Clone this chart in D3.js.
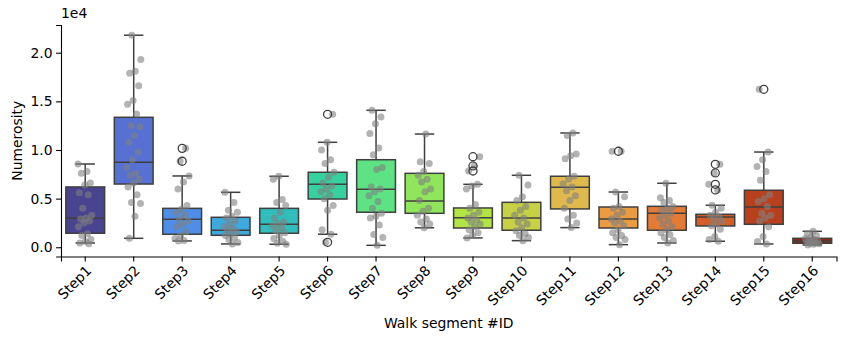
<!DOCTYPE html>
<html>
<head>
<meta charset="utf-8">
<script src="https://cdn.jsdelivr.net/npm/d3@7"></script>
<style>
body{margin:0;background:#fff}
svg{font-family:"DejaVu Sans",sans-serif}
</style>
</head>
<body>
<svg id="chart"></svg>
<script>
const width=846
const height=340
const margin={top:25,right:9.5,bottom:83.5,left:61}
const innerWidth=width-margin.left-margin.right
const innerHeight=height-margin.top-margin.bottom

// categories and colours
const steps=['Step1','Step2','Step3','Step4','Step5','Step6','Step7','Step8','Step9','Step10','Step11','Step12','Step13','Step14','Step15','Step16']
const colors=['#4a4390','#5670d3','#4e8ee8','#3ca9df','#30bdbb','#35d29f','#5de383','#90e65b','#b2e444','#c6d143','#e0b94d','#eb9c41','#e47b35','#d65d25','#b9401d','#962716']

// box stats
const whiskerLow=[440,920,650,340,310,1340,200,2000,960,680,2020,270,440,620,340,240]
const q1=[1440,6500,1340,1230,1440,4960,3600,3490,1980,1750,3940,1980,1750,2190,2360,410]
const medians=[2980,8730,2880,1750,2360,6470,5960,4760,3040,3010,6170,2910,3490,3110,4140,650]
const q3=[6200,13360,4000,3080,4000,7710,9000,7600,4040,4620,7300,4140,4210,3390,5860,920]
const whiskerHigh=[8560,21800,7330,5650,7300,10790,14080,11640,6470,7400,11750,5680,6580,4320,9790,1640]
const outliers=[[],[],[10170,8840],[],[],[13670,510],[],[],[9310,8360,7840],[],[],[9870],[],[8530,7640,6470,5890],[16240],[]]

// the individual observations (stripplot)
const points=[
  [8560,7800,7600,6600,6400,5600,5400,4000,3300,3000,2900,2700,2500,2100,1400,1200,800,600,440,350],
  [21800,19300,18100,17900,16600,15100,14700,13700,12500,12400,11500,10800,9800,9000,8200,7600,7400,7000,6600,6200,5400,4600,4500,3200,920],
  [10170,8840,7330,6700,6000,4300,3900,3600,3300,2900,2700,2400,2100,1600,1200,900,700,650],
  [5650,4600,3800,3600,3200,3000,2700,2400,2100,1900,1750,1600,1400,1200,1000,800,500,340],
  [7300,7000,4900,4600,4300,3600,3000,2600,2400,2200,2000,1700,1500,1200,900,600,400,310],
  [13670,10790,10000,9000,8600,7700,7200,6600,6300,6000,5700,5400,5000,4300,3800,1800,1340,510],
  [14080,13400,12700,11700,10200,9500,8200,8000,6200,6000,5700,5300,4700,4000,3500,3200,3000,2300,1300,1000,200],
  [11640,8800,8600,7800,7400,7000,6700,6000,5700,4800,4000,3700,3300,2900,2600,2400,2000],
  [9310,8360,7840,6470,6300,6000,4400,4000,3600,3300,3000,2800,2600,2400,2100,1800,1500,1200,960],
  [7400,6400,5200,4800,4200,3800,3300,3000,2600,2400,2000,1700,1400,1200,1000,680],
  [11750,11500,9600,9400,9100,7300,7000,6500,6200,5800,5300,4800,4000,3300,2900,2500,2020],
  [9870,9870,5680,5200,4200,4000,3600,3300,2900,2700,2500,2200,1800,1500,1200,1000,800,270],
  [6580,5100,4800,4600,4200,4000,3800,3500,3300,3000,2700,2400,2100,1800,1500,1300,1000,700,440],
  [8530,7640,6470,5890,4320,4000,3600,3300,3100,2900,2700,2400,2200,1850,1100,800,620],
  [16240,9790,9000,8300,7800,6900,5400,5000,4700,4200,3500,3300,3000,2700,2100,1100,600,340],
  [1640,1400,1200,1000,900,800,700,650,600,500,450,400,350,300,240]
]
const yTicks=[0,5000,10000,15000,20000]

const svg=d3.select('#chart').attr('width',width).attr('height',height)

const Xscale=d3.scaleBand().domain(steps).range([0,innerWidth])
const Yscale=d3.scaleLinear().domain([-950,22850]).range([innerHeight,0])

const g=svg.append('g').attr('transform',`translate(${margin.left},${margin.top})`)

const bw=Xscale.bandwidth()
const boxW=bw*0.8
const edge='#3f3f3f'

const boxes=steps.map((s,i)=>({step:s,i,lo:whiskerLow[i],q1:q1[i],med:medians[i],q3:q3[i],hi:whiskerHigh[i]}))

const boxG=g.append('g').attr('class','boxes').selectAll('g').data(boxes).join('g')
  .attr('transform',d=>`translate(${Xscale(d.step)+bw/2},0)`)

// whiskers
boxG.append('line').attr('y1',d=>Yscale(d.hi)).attr('y2',d=>Yscale(d.q3))
  .attr('stroke',edge).attr('stroke-width',1.5)
boxG.append('line').attr('y1',d=>Yscale(d.lo)).attr('y2',d=>Yscale(d.q1))
  .attr('stroke',edge).attr('stroke-width',1.5)
boxG.selectAll('line.cap').data(d=>[d.lo,d.hi]).join('line').attr('class','cap')
  .attr('x1',-boxW/4).attr('x2',boxW/4)
  .attr('y1',d=>Yscale(d)).attr('y2',d=>Yscale(d))
  .attr('stroke',edge).attr('stroke-width',1.5)
// box
boxG.append('rect')
  .attr('x',-boxW/2).attr('width',boxW)
  .attr('y',d=>Yscale(d.q3)).attr('height',d=>Yscale(d.q1)-Yscale(d.q3))
  .attr('fill',d=>colors[d.i]).attr('stroke',edge).attr('stroke-width',1.5)
// median
boxG.append('line').attr('x1',-boxW/2).attr('x2',boxW/2)
  .attr('y1',d=>Yscale(d.med)).attr('y2',d=>Yscale(d.med))
  .attr('stroke',edge).attr('stroke-width',1.5)

// strip points, deterministic jitter
const pts=[]
points.forEach((arr,s)=>arr.forEach((v,k)=>{
  const j=(((k*0.618034+s*0.37)%1)-0.5)*2*0.15*bw
  pts.push({step:steps[s],v,j})
}))
g.append('g').attr('class','strip').selectAll('circle').data(pts).join('circle')
  .attr('cx',d=>Xscale(d.step)+bw/2+d.j)
  .attr('cy',d=>Yscale(d.v))
  .attr('r',3.5)
  .attr('fill','#808080').attr('fill-opacity',0.6)

// fliers
const fl=[]
outliers.forEach((arr,s)=>arr.forEach(v=>fl.push({step:steps[s],v})))
g.append('g').attr('class','fliers').selectAll('circle').data(fl).join('circle')
  .attr('cx',d=>Xscale(d.step)+bw/2)
  .attr('cy',d=>Yscale(d.v))
  .attr('r',4)
  .attr('fill','none').attr('stroke',edge).attr('stroke-width',1.3)

// axes
const xAxis=d3.axisBottom(Xscale).tickSizeOuter(0).tickSize(4.9).tickPadding(3)
const yAxis=d3.axisLeft(Yscale).tickValues(yTicks).tickFormat(d=>(d/1e4).toFixed(1)).tickSizeOuter(0).tickSize(4.9).tickPadding(3.5)

const xg=g.append('g').attr('transform',`translate(0,${innerHeight})`).call(xAxis)
xg.selectAll('text')
  .attr('text-anchor','end')
  .attr('dy','0.35em')
  .attr('transform',function(){ return `translate(-2,${6})rotate(-45)` })
const yg=g.append('g').call(yAxis)

g.selectAll('.domain').attr('stroke','#000').attr('stroke-width',1.1)
g.selectAll('.tick line').attr('stroke','#000').attr('stroke-width',1.1)
g.selectAll('.tick text').attr('fill','#000').attr('font-size','13.9px').attr('font-family','DejaVu Sans')

// offset label and titles
svg.append('text').text('1e4').attr('x',margin.left).attr('y',margin.top-7)
  .attr('font-size','13.9px')
svg.append('text').text('Numerosity')
  .attr('transform',`translate(22,${margin.top+innerHeight/2}) rotate(-90)`)
  .attr('text-anchor','middle').attr('font-size','13.9px')
svg.append('text').text('Walk segment #ID')
  .attr('x',margin.left+innerWidth/2).attr('y',328)
  .attr('text-anchor','middle').attr('font-size','13.9px')
</script>
</body>
</html>
